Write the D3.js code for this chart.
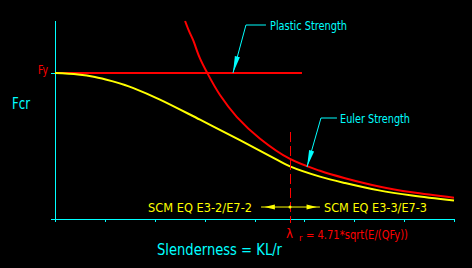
<!DOCTYPE html>
<html>
<head>
<meta charset="utf-8">
<script src="https://cdn.jsdelivr.net/npm/d3@7"></script>
<style>
  html, body { margin: 0; padding: 0; background: #000; }
  svg { display: block; }
  text { font-family: "DejaVu Sans", sans-serif; }
</style>
</head>
<body>
<div id="chart"></div>
<script>
// slenderness KL/r on x, Fcr/Fy on y
const xTicks = [0, 25, 50, 75, 100, 125, 150, 175, 200];

const columnX = [0, 11.5, 20, 28.6, 35, 39, 52.6, 72.7, 92.7, 107.8, 117.8, 132.8, 145.4, 162.4, 179, 200];
const columnY = [1.0, 0.99, 0.973, 0.944, 0.918, 0.898, 0.818, 0.68, 0.54, 0.431, 0.360, 0.290, 0.246, 0.196, 0.161, 0.127];

const eulerX = [65.2, 67.2, 69.2, 72.5, 76.2, 82.7, 91.2, 102.8, 117.8, 132.8, 145.4, 162.4, 179, 200];
const eulerY = [1.356, 1.286, 1.226, 1.105, 1.003, 0.849, 0.698, 0.55, 0.411, 0.33, 0.279, 0.223, 0.183, 0.146];

const plasticX = [0, 123.8];
const plasticY = [1.0, 1.0];

const lambdaR = 117.8;

const svgWidth = 472;
const svgHeight = 268;
const margin = { top: 21, right: 18, bottom: 49, left: 55 };
const chartWidth = svgWidth - margin.left - margin.right;
const chartHeight = svgHeight - margin.top - margin.bottom;

const CYAN = "#00ffff", RED = "#ff0000", YELLOW = "#ffff00";

const root = d3.select("#chart")
    .append("svg")
    .attr("width", svgWidth)
    .attr("height", svgHeight)
    .style("background", "#000");

const svg = root.append("g")
    .attr("transform", `translate(${margin.left},${margin.top})`);

const x = d3.scaleLinear().domain([0, 200]).range([0, chartWidth]);
const y = d3.scaleLinear().domain([0, 1.356]).range([chartHeight, 0]);

// axes (no tick labels in the drawing)
const xAxis = svg.append("g")
    .attr("transform", `translate(0,${chartHeight})`)
    .call(d3.axisBottom(x).tickValues(xTicks).tickSize(3).tickFormat(""));
xAxis.select(".domain").attr("d", `M-4,0H${chartWidth}`);
xAxis.selectAll("text").remove();
xAxis.selectAll("line, path").attr("stroke", CYAN).attr("shape-rendering", "crispEdges");

const yAxis = svg.append("g")
    .call(d3.axisLeft(y).tickValues([1]).tickSize(4).tickFormat(""));
yAxis.select(".domain").attr("d", `M0,0V${chartHeight + 3}`);
yAxis.selectAll("text").remove();
yAxis.selectAll("line, path").attr("stroke", CYAN).attr("shape-rendering", "crispEdges");

const line = d3.line().x(d => x(d[0])).y(d => y(d[1])).curve(d3.curveCatmullRom);

// plastic strength
svg.append("path")
    .datum(d3.zip(plasticX, plasticY))
    .attr("d", line)
    .attr("fill", "none")
    .attr("stroke", RED)
    .attr("stroke-width", 2);

// euler strength
svg.append("path")
    .datum(d3.zip(eulerX, eulerY))
    .attr("d", line)
    .attr("fill", "none")
    .attr("stroke", RED)
    .attr("stroke-width", 2);

// column curve
svg.append("path")
    .datum(d3.zip(columnX, columnY))
    .attr("d", line)
    .attr("fill", "none")
    .attr("stroke", YELLOW)
    .attr("stroke-width", 2);

// lambda_r dashed
svg.append("line")
    .attr("x1", x(lambdaR)).attr("x2", x(lambdaR))
    .attr("y1", y(0.596)).attr("y2", chartHeight + 4)
    .attr("stroke", RED)
    .attr("stroke-width", 1)
    .attr("stroke-dasharray", "10,4")
    .attr("shape-rendering", "crispEdges");

// double arrow for equations
const arrowY = y(0.082);
svg.append("line")
    .attr("x1", x(103.3)).attr("x2", x(132.8))
    .attr("y1", arrowY).attr("y2", arrowY)
    .attr("stroke", YELLOW).attr("stroke-width", 1);
svg.append("path")
    .attr("d", `M${x(105)},${arrowY}L${x(110.2)},${arrowY - 2.5}L${x(110.2)},${arrowY + 2.5}Z`)
    .attr("fill", YELLOW);
svg.append("path")
    .attr("d", `M${x(131.3)},${arrowY}L${x(126.1)},${arrowY - 2.5}L${x(126.1)},${arrowY + 2.5}Z`)
    .attr("fill", YELLOW);
svg.append("circle")
    .attr("cx", x(lambdaR)).attr("cy", arrowY).attr("r", 1.5)
    .attr("fill", YELLOW);

// leaders
function leader(tipX, tipY, elbowDx, elbowY, len) {
    const tx = x(tipX), ty = y(tipY);
    const ex = tx + elbowDx;
    svg.append("path")
        .attr("d", `M${ex + len},${elbowY}H${ex}L${tx},${ty}`)
        .attr("fill", "none")
        .attr("stroke", CYAN)
        .attr("stroke-width", 1);
    const ang = Math.atan2(elbowY - ty, ex - tx);
    const L = 17, W = 2.6;
    const bx = tx + L * Math.cos(ang), by = ty + L * Math.sin(ang);
    const px = -Math.sin(ang) * W, py = Math.cos(ang) * W;
    svg.append("path")
        .attr("d", `M${tx},${ty}L${bx + px},${by + py}L${bx - px},${by - py}Z`)
        .attr("fill", CYAN);
}
leader(89.2, 1.0, 13, 25 - margin.top, 20);
leader(126.3, 0.356, 14, 118 - margin.top, 16);

// labels
function label(txt, px, py, size, width, color) {
    root.append("text")
        .attr("x", px).attr("y", py)
        .attr("font-size", size)
        .attr("fill", color)
        .attr("textLength", width)
        .attr("lengthAdjust", "spacingAndGlyphs")
        .text(txt);
}
label("Plastic Strength", 270, 30, 12.5, 77, CYAN);
label("Euler Strength", 340, 123, 12.5, 70, CYAN);
label("Fy", 38, 74, 13, 10, RED);
label("Fcr", 12, 109, 15, 18, CYAN);
label("Slenderness  =  KL/r", 157, 255, 15, 125, CYAN);
label("SCM EQ E3-2/E7-2", 148, 212, 13, 104, YELLOW);
label("SCM EQ E3-3/E7-3", 324, 212, 13, 103, YELLOW);

// lambda_r label: symbol with subscript, then the formula
label("\u03bb", 286, 238, 12.5, 7, RED);
label("r", 299, 241, 9, 3.5, RED);
label("=  4.71*sqrt(E/(QFy))", 306, 239, 12.5, 102, RED);
</script>
</body>
</html>
